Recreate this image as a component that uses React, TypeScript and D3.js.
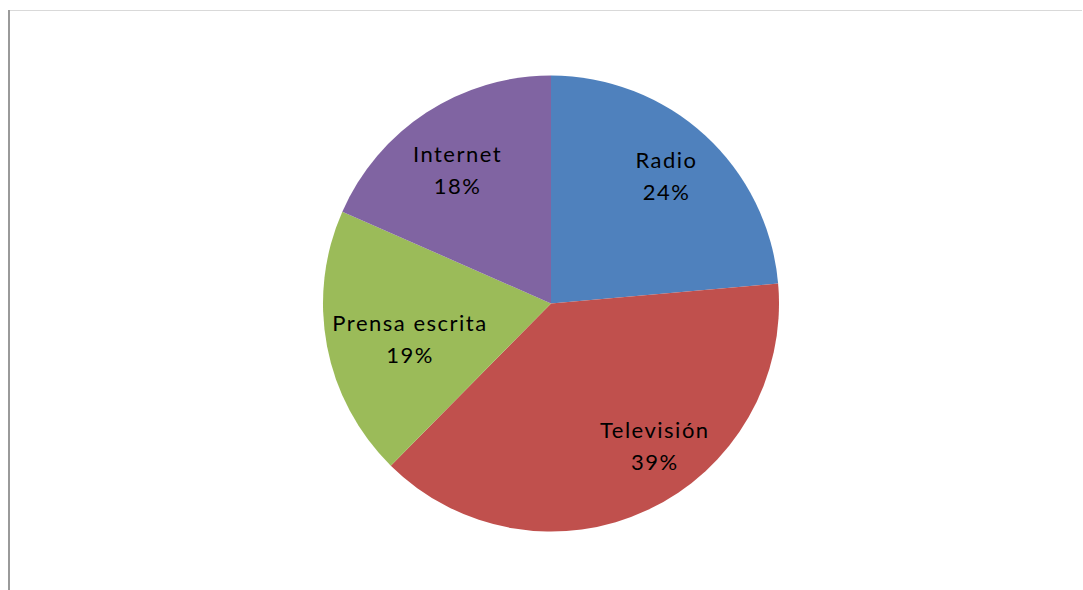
import { useEffect, useRef } from "react";
import * as d3 from "d3";

const categories = ["Radio", "Televisión", "Prensa escrita", "Internet"];
const shares = [23.6, 38.8, 19.2, 18.4];
const colors = ["#4F81BD", "#C0504D", "#9BBB59", "#8064A2"];
// small manual shifts like Excel's best-fit label placement
const labelNudge: [number, number][] = [
  [0, -1],
  [31, -12],
  [27, 3],
  [0, 10],
];

const W = 1083;
const H = 590;

const App = () => {
  const svgRef = useRef<SVGSVGElement | null>(null);

  useEffect(() => {
    const svg = d3.select(svgRef.current);
    svg.selectAll("*").remove();

    // chart frame
    svg
      .append("line")
      .attr("x1", 9)
      .attr("x2", 1082)
      .attr("y1", 10.5)
      .attr("y2", 10.5)
      .attr("stroke", "#d9d9d9")
      .attr("stroke-width", 1);
    svg
      .append("line")
      .attr("x1", 9)
      .attr("x2", 9)
      .attr("y1", 10)
      .attr("y2", H)
      .attr("stroke", "#9a9a9a")
      .attr("stroke-width", 2);

    const cx = 551;
    const cy = 303.5;
    const r = 228;

    const pie = d3
      .pie<number>()
      .sort(null)
      .value((d) => d);
    const arcs = pie(shares);
    const arc = d3.arc<d3.PieArcDatum<number>>().innerRadius(0).outerRadius(r);
    const labelArc = d3
      .arc<d3.PieArcDatum<number>>()
      .innerRadius(r * 0.75)
      .outerRadius(r * 0.75);

    const g = svg.append("g").attr("transform", `translate(${cx},${cy})`);

    g.selectAll("path")
      .data(arcs)
      .enter()
      .append("path")
      .attr("d", arc)
      .attr("fill", (d, i) => colors[i]);

    const total = d3.sum(shares);
    const labels = g
      .selectAll("text")
      .data(arcs)
      .enter()
      .append("text")
      .attr("transform", (d, i) => {
        const [x, y] = labelArc.centroid(d);
        return `translate(${x + labelNudge[i][0]},${y + labelNudge[i][1]})`;
      })
      .attr("text-anchor", "middle")
      .style("font-family", "Lato, 'Open Sans', sans-serif")
      .style("font-size", "22px")
      .style("letter-spacing", "1.5px")
      .attr("fill", "#000");

    labels
      .append("tspan")
      .attr("x", 0)
      .attr("y", -8)
      .text((d, i) => categories[i]);
    labels
      .append("tspan")
      .attr("x", 0)
      .attr("y", 24)
      .text((d) => `${Math.round((d.value / total) * 100)}%`);
  }, []);

  return (
    <svg
      ref={svgRef}
      width={W}
      height={H}
      style={{ position: "absolute", left: 0, top: 0, background: "#fff" }}
    ></svg>
  );
};

export default App;
